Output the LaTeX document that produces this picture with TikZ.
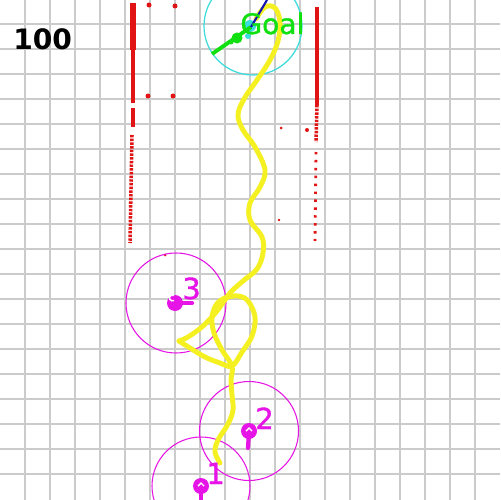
\documentclass[tikz,border=0pt]{standalone}
\usepackage{fontspec}
\newfontfamily\schrift[FakeBold=1.2]{DejaVu Sans}
\newfontfamily\schriftb{DejaVu Sans}
\usetikzlibrary{calc}
\definecolor{gitterg}{HTML}{CBCBCB}
\definecolor{wandr}{HTML}{E01414}
\definecolor{zielc}{HTML}{3CDCDC}
\definecolor{zielg}{HTML}{10E010}
\definecolor{robom}{HTML}{E614E6}
\definecolor{bahng}{HTML}{F5F022}
\definecolor{kursb}{HTML}{1414B4}
\tikzset{
  gitter/.style={gitterg,line width=0.6pt},
  wand/.style={wandr,line width=2.2pt},
  wandp/.style={wandr,line width=2pt,dash pattern=on 1.4pt off 0.7pt},
  wandd/.style={wandr,line width=1.6pt,dash pattern=on 1.4pt off 3.1pt},
  punkt/.style={fill=wandr},
  zone/.style={robom,line width=0.6pt},
  robo/.style={fill=robom},
  kopf/.style={robom,line width=2.4pt,line cap=round},
  marke/.style={white,line width=0.8pt},
  bahn/.style={bahng,line width=2.8pt,line cap=round,line join=round},
  zielkreis/.style={zielc,line width=0.7pt},
  ziellinie/.style={zielg,line width=2.2pt},
  kurs/.style={kursb,line width=1.2pt},
  nummer/.style={robom,font=\schrift\fontsize{16.5}{16.5}\selectfont,inner sep=0pt},
}

\begin{document}
\begin{tikzpicture}[x=0.02cm,y=-0.02cm]
  \useasboundingbox[fill=white] (0,0) rectangle (500,500);
  \foreach \i in {25,50,...,475} {
    \draw[gitter] (\i,0) -- (\i,500);
    \draw[gitter] (0,\i-1) -- (500,\i-1);
  }

  \draw[wandr,line width=3.3pt] (133,3) -- (133,50);
  \draw[wand] (133,50) -- (133,103);
  \draw[wand] (133,108) -- (133,127);
  \draw[wandp] (132,135) -- (130,243);
  \draw[wand] (317,7) -- (317,105);
  \draw[wandp] (317,105) -- (316,142);
  \draw[wandd] (316,152) -- (315,241);
  \foreach \p/\r in {{(149,5)}/2.5,{(175,6)}/2.5,{(148,96)}/2.5,{(173,96)}/2.5,
                     {(281,128)}/1.5,{(307,130)}/2,{(279,220)}/1.3,{(165,255)}/1.5}
    \fill[punkt] \p circle (\r);

  \draw[zielkreis] (253,26) circle (49);
  \fill[zielc] (250,26) circle (6);
  \fill[zielc] (248,36) circle (3);

  \draw[zone] (176,303) circle (50);
  \draw[zone] (249,431) circle (49.5);
  \draw[zone] (201,486) circle (49);

  \draw[bahn] plot[smooth,tension=0.6] coordinates {
    (256,19) (265,7) (275,8) (280,22) (278,41) (270,60) (257,80) (244,99)
    (238,115) (243,130) (255,147) (265,170) (260,187) (250,203) (250,220)
    (262,237) (263,253) (257,269) (243,281) (230,293) (217,311) (203,326)
    (188,337) (179,341)};
  \draw[bahn] plot[smooth,tension=0.6] coordinates {
    (179,341) (190,348) (205,357) (220,363) (232,366) (242,352) (252,336)
    (255,317) (248,301) (238,296) (225,298) (216,305) (212,318) (214,333)
    (222,350) (232,366) (231,380) (232,395) (233,410) (228,424) (218,440)
    (215,452) (220,463)};

  \draw[kopf] (175,303) -- (192,303);
  \fill[robo] (175,303) circle (8);
  \draw[marke] (174,300.5) arc (60:300:3);
  \draw[kopf] (249,431) -- (248,448);
  \fill[robo] (249,431) circle (8);
  \draw[marke] (246,431) -- (249,428) -- (252,431);
  \draw[kopf] (201,486) -- (201,502);
  \fill[robo] (201,486) circle (8);
  \draw[marke] (198,486) -- (201,483) -- (204,486);
  \node[nummer,anchor=base west] (n3) at (182,299) {3};
  \node[nummer,anchor=base west] (n2) at (255,429) {2};
  \node[nummer,anchor=base west] (n1) at (206,484) {1};

  \coordinate (start) at (212,54);
  \coordinate (ziel) at (251,27);
  \draw[ziellinie] (start) -- (ziel);
  \fill[zielg] (237,38) circle (5.5);
  \fill[zielg] (231,42) circle (2.5);
  \draw[kurs] (ziel) -- (267,0);
  \node[zielg,font=\schrift\fontsize{16}{16}\selectfont,inner sep=0pt,anchor=base west] (goal) at (240,34) {Goal};

  \node[font=\schriftb\bfseries\fontsize{16}{16}\selectfont,inner sep=0pt,anchor=base west] (zahl) at (13,50) {100};
\end{tikzpicture}
\end{document}
